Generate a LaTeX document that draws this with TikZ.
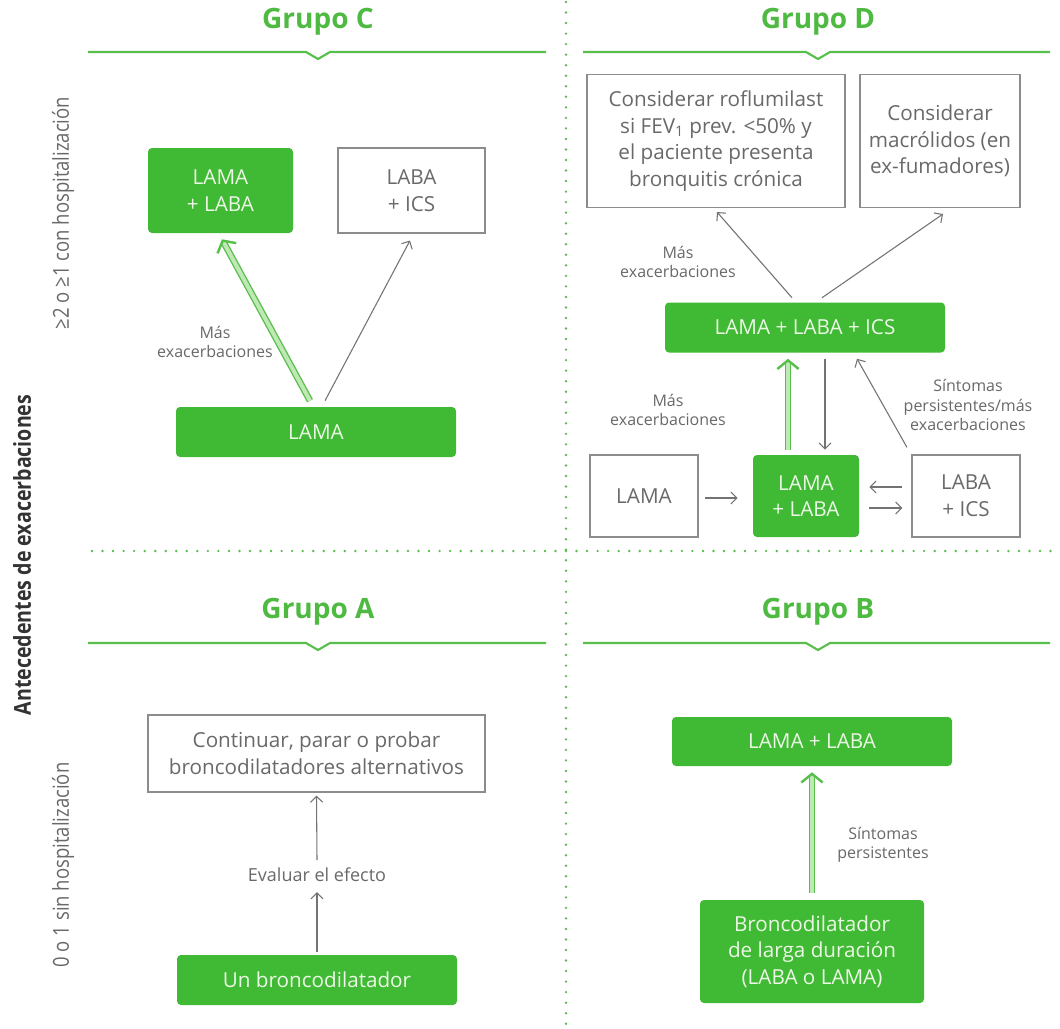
\documentclass[tikz,border=0pt]{standalone}
\usepackage{fontspec}
\setmainfont{Open Sans}
\newfontfamily\condfont[FakeStretch=0.84]{Open Sans}
\usetikzlibrary{arrows.meta,calc}

\definecolor{gfill}{RGB}{64,185,52}
\definecolor{gtext}{RGB}{236,248,230}
\definecolor{ghead}{RGB}{78,186,66}
\definecolor{gline}{RGB}{88,190,76}
\definecolor{glight}{RGB}{190,232,180}
\definecolor{txtgray}{RGB}{105,105,105}
\definecolor{bordergray}{RGB}{140,140,140}
\definecolor{arrgray}{RGB}{115,115,115}

\tikzset{
  sz/.style 2 args={minimum width=#1*0.75pt, minimum height=#2*0.75pt},
  boxtext/.style={font=\fontsize{15.5}{20}\selectfont, align=center, inner sep=0pt},
  gbox/.style={boxtext, fill=gfill, rounded corners=3pt, text=gtext},
  wbox/.style={boxtext, draw=bordergray, line width=0.8pt, fill=white, text=txtgray},
  lbl/.style={font=\fontsize{12}{14.5}\selectfont, text=txtgray, align=center, inner sep=1pt},
  grouptitle/.style={font=\fontsize{21}{24}\selectfont\bfseries, text=ghead},
  headline/.style={draw=gline, line width=1.6pt, line join=miter},
  dotline/.style={draw=gline, line width=2pt, line cap=round, dash pattern=on 0pt off 7.9pt},
  arr/.style={draw=arrgray, line width=0.8pt, -{Straight Barb[length=4.5pt, width=9pt, line width=0.8pt]}},
  garr/.style={draw=gline, line width=1pt, double=glight, double distance=3pt,
    -{Straight Barb[length=6.5pt, width=16pt, line width=1.8pt]}},
  axis/.style={rotate=90, text=txtgray, inner sep=0pt},
}

\begin{document}
\begin{tikzpicture}[x=0.75pt, y=-0.75pt]
\useasboundingbox[fill=white] (0,0) rectangle (1060,1028);

% quadrant separators
\draw[dotline] (566,2) -- (566,1028);
\draw[dotline] (92,551) -- (1058,551);

% axis labels
\node[axis, font=\condfont\fontsize{17.5}{19}\selectfont\bfseries, text=black!80] (axisT) at (22,555) {Antecedentes de exacerbaciones};
\node[axis, font=\condfont\fontsize{16.5}{18}\selectfont] (axisHi) at (63,213) {≥2 o ≥1 con hospitalización};
\node[axis, font=\condfont\fontsize{16.5}{18}\selectfont] (axisLo) at (63,865) {0 o 1 sin hospitalización};

% group headers
\node[grouptitle] (hC) at (318,22) {Grupo C};
\draw[headline] (88,52) -- (306,52) -- (318,59) -- (330,52) -- (546,52);
\node[grouptitle] (hD) at (818,22) {Grupo D};
\draw[headline] (583,52) -- (806,52) -- (818,59) -- (830,52) -- (1050,52);
\node[grouptitle] (hA) at (318,612) {Grupo A};
\draw[headline] (88,643) -- (306,643) -- (318,650) -- (330,643) -- (546,643);
\node[grouptitle] (hB) at (818,612) {Grupo B};
\draw[headline] (583,643) -- (806,643) -- (818,650) -- (830,643) -- (1050,643);

% ---- Grupo C ----
\node[gbox, sz={145}{85}] (cLL) at (220.5,190.5) {LAMA\\+ LABA};
\node[wbox, sz={147}{85}] (cLI) at (411.5,190.5) {LABA\\+ ICS};
\node[gbox, sz={280}{50}] (cL) at (316,432) {LAMA};
\node[lbl] (cMas) at (215,342) {Más\\exacerbaciones};
\draw[garr] ($(cL.north)+(-6,-6)$) -- ($(cLL.south)+(1.5,6)$);
\draw[arr] ($(cL.north)+(9,-6)$) -- ($(cLI.south)+(-1.5,7)$);

% ---- Grupo D ----
\node[wbox, sz={258}{133}] (dRof) at (716,141)
  {Considerar roflumilast\\si FEV\textsubscript{1} prev. <50\% y\\el paciente presenta\\bronquitis crónica};
\node[wbox, sz={160}{133}] (dMac) at (940,141) {Considerar\\macrólidos (en\\ex-fumadores)};
\node[gbox, sz={280}{50}] (dTri) at (805,327.5) {LAMA + LABA + ICS};
\node[wbox, sz={108}{82}] (dLM) at (644,496) {LAMA};
\node[gbox, sz={106}{82}] (dLL) at (806,496) {LAMA\\+ LABA};
\node[wbox, sz={108}{82}] (dLI) at (966,496) {LABA\\+ ICS};
\node[lbl] (dMas1) at (678,262) {Más\\exacerbaciones};
\node[lbl] (dMas2) at (668,410) {Más\\exacerbaciones};
\node[lbl] (dSin) at (968,405) {Síntomas\\persistentes/más\\exacerbaciones};
\draw[arr] ($(dTri.north)+(-13,-4.5)$) -- ($(dRof.south)+(1,4)$);
\draw[arr] ($(dTri.north)+(17,-4.5)$) -- ($(dMac.south)+(3,6)$);
\draw[garr] ($(dLL.north)+(-18,-5)$) -- ($(dTri.south)+(-17,6)$);
\draw[arr] ($(dTri.south)+(20,6)$) -- ($(dLL.north)+(19,-5)$);
\draw[arr] ($(dLI.north)+(-59,-7)$) -- ($(dTri.south)+(52,6)$);
\draw[arr] ($(dLM.east)+(6,2)$) -- ($(dLL.west)+(-15,2)$);
\draw[arr] ($(dLI.west)+(-9,-9)$) -- ($(dLL.east)+(10,-9)$);
\draw[arr] ($(dLL.east)+(10,12)$) -- ($(dLI.west)+(-9,12)$);

% ---- Grupo A ----
\node[wbox, sz={337}{77}] (aCont) at (316.5,753.5) {Continuar, parar o probar\\broncodilatadores alternativos};
\node[gbox, sz={280}{50}] (aUn) at (317,980) {Un broncodilatador};
\node[lbl, font=\fontsize{13.5}{16}\selectfont] (aEv) at (317,875) {Evaluar el efecto};
\draw[arr] ($(aUn.north)+(0,-3)$) -- ($(aEv.center)+(0,17)$);
\draw[arr] ($(aEv.center)+(0,-15)$) -- ($(aCont.south)+(0,3)$);

% ---- Grupo B ----
\node[gbox, sz={280}{49}] (bLL) at (812,741.5) {LAMA + LABA};
\node[gbox, sz={224}{103}] (bBr) at (812,951.5) {Broncodilatador\\de larga duración\\(LABA o LAMA)};
\node[lbl] (bSin) at (883,845) {Síntomas\\persistentes};
\draw[garr] ($(bBr.north)+(0,-7)$) -- ($(bLL.south)+(0,6)$);
\end{tikzpicture}
\end{document}
